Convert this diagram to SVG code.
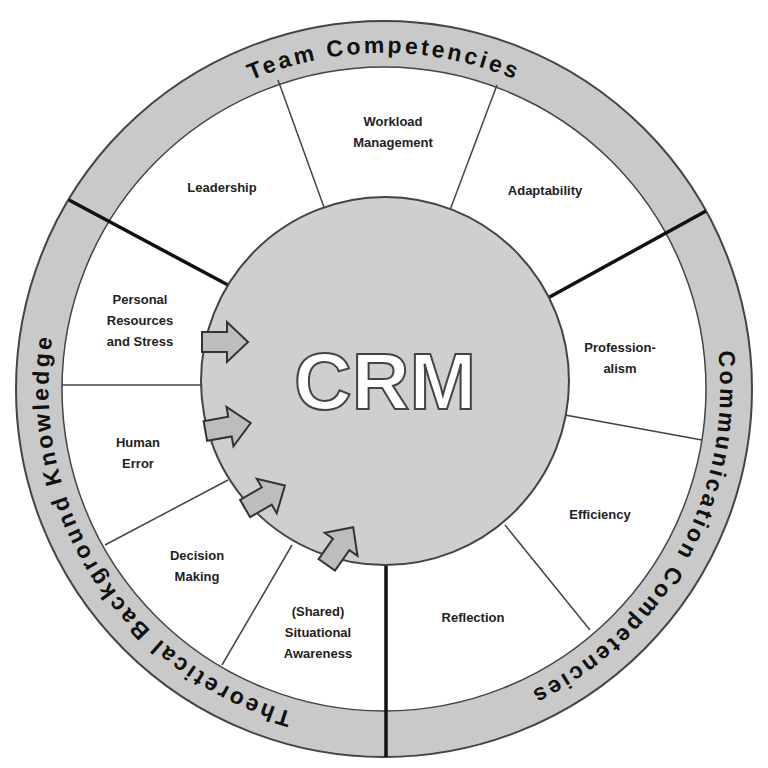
<svg xmlns="http://www.w3.org/2000/svg" width="768" height="768" viewBox="0 0 768 768">
<style>
.lbl{font-family:"Liberation Sans",Arial,sans-serif;font-size:13px;font-weight:bold;fill:#222;text-anchor:middle}
.band{font-family:"Liberation Sans",Arial,sans-serif;font-size:23px;font-weight:bold;fill:#111;letter-spacing:3px}
.thin{stroke:#444;stroke-width:1.5}
.thick{stroke:#111;stroke-width:3.5}
.arr{fill:#bdbdbd;stroke:#333;stroke-width:2}
</style>
<defs>
<path id="pTop" d="M93,221 A336,336 0 0 1 675,221"/>
<path id="pRight" d="M675,221 A336,336 0 0 1 396,725"/>
<path id="pLeft" d="M384,725 A336,336 0 0 1 80,247"/>
<path id="arrow" d="M-23,-10 L2,-10 L2,-20 L23,0 L2,20 L2,10 L-23,10 Z"/>
</defs>
<rect width="768" height="768" fill="#fff"/>
<g id="ring">
<circle cx="384" cy="389" r="368" fill="#c9c9c9" stroke="#444" stroke-width="2"/>
<circle cx="384" cy="389" r="322" fill="#fff" stroke="#444" stroke-width="1.5"/>
</g>
<g id="connectors">
<line class="thin" x1="278" y1="80" x2="325" y2="210"/>
<line class="thin" x1="497" y1="85" x2="450" y2="210"/>
<line class="thin" x1="702" y1="440" x2="565" y2="415"/>
<line class="thin" x1="590" y1="630" x2="505" y2="525"/>
<line class="thin" x1="62" y1="385" x2="205" y2="385"/>
<line class="thin" x1="105" y1="545" x2="228" y2="480"/>
<line class="thin" x1="222" y1="665" x2="292" y2="545"/>
<line class="thick" x1="69" y1="200" x2="228" y2="285"/>
<line class="thick" x1="706" y1="211" x2="546" y2="299"/>
<line class="thick" x1="386" y1="757" x2="386" y2="565"/>
</g>
<g id="crm">
<circle cx="385" cy="381" r="184" fill="#cfcfcf" stroke="#444" stroke-width="2"/>
<text x="385" y="409" font-family="Liberation Sans,Arial,sans-serif" font-size="80" font-weight="bold" fill="#fff" stroke="#444" stroke-width="2" text-anchor="middle">CRM</text>
</g>
<g id="arrows">
<use href="#arrow" class="arr" transform="translate(225,342)"/>
<use href="#arrow" class="arr" transform="translate(228,427) rotate(-10)"/>
<use href="#arrow" class="arr" transform="translate(265,497) rotate(-30)"/>
<use href="#arrow" class="arr" transform="translate(340,546) rotate(-55)"/>
</g>
<g id="bands">
<text class="band"><textPath href="#pTop" startOffset="50%" text-anchor="middle">Team Competencies</textPath></text>
<text class="band"><textPath href="#pRight" startOffset="50%" text-anchor="middle">Communication Competencies</textPath></text>
<text class="band"><textPath href="#pLeft" startOffset="50%" text-anchor="middle">Theoretical Background Knowledge</textPath></text>
</g>
<g id="n-leadership"><text class="lbl" x="222" y="192">Leadership</text></g>
<g id="n-workload"><text class="lbl" x="393" y="126">Workload</text><text class="lbl" x="393" y="147">Management</text></g>
<g id="n-adapt"><text class="lbl" x="545" y="195">Adaptability</text></g>
<g id="n-prof"><text class="lbl" x="620" y="352">Profession-</text><text class="lbl" x="620" y="373">alism</text></g>
<g id="n-eff"><text class="lbl" x="600" y="519">Efficiency</text></g>
<g id="n-refl"><text class="lbl" x="473" y="622">Reflection</text></g>
<g id="n-sa"><text class="lbl" x="318" y="616">(Shared)</text><text class="lbl" x="318" y="637">Situational</text><text class="lbl" x="318" y="658">Awareness</text></g>
<g id="n-dm"><text class="lbl" x="197" y="560">Decision</text><text class="lbl" x="197" y="581">Making</text></g>
<g id="n-he"><text class="lbl" x="138" y="447">Human</text><text class="lbl" x="138" y="468">Error</text></g>
<g id="n-prs"><text class="lbl" x="140" y="304">Personal</text><text class="lbl" x="140" y="325">Resources</text><text class="lbl" x="140" y="346">and Stress</text></g>
</svg>
